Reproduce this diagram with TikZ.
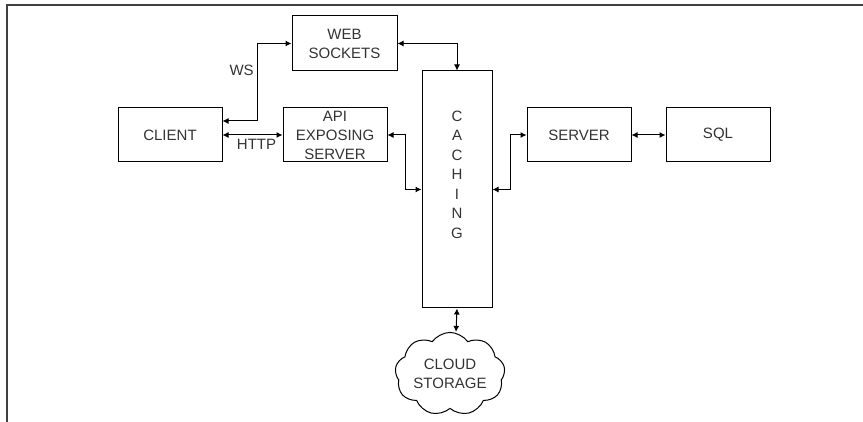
\documentclass[tikz,border=0pt]{standalone}
\usepackage{fontspec}
\setmainfont{Liberation Sans}
\usetikzlibrary{arrows.meta,positioning,shapes.symbols}

\begin{document}
\begin{tikzpicture}[x=1pt,y=-1pt] % coordinates in pixels of the screenshot
\tikzset{every node/.style={font=\fontsize{15}{19}\selectfont, text=black!80}}
\tikzset{block/.style={draw, line width=1pt, minimum width=104pt, minimum height=54pt, inner sep=0pt, align=center}}
\tikzset{conn/.style={line width=1pt, {Latex[length=6pt,width=6pt]}-{Latex[length=6pt,width=6pt]}}}
\useasboundingbox (0,0) rectangle (863,422);
% screenshot frame
\draw[line width=2pt, black!75] (7,422) -- (7,5) -- (863,5);
% boxes
\node[block] (client) at (170,135) {CLIENT};
\node[block, minimum width=105pt, minimum height=55pt] (websockets) at (344.5,43.5) {WEB\\SOCKETS};
\node[block] (api) at (335,135) {API\\EXPOSING\\SERVER};
\node[block, minimum width=70pt, minimum height=237pt] (caching) at (457,189.5) {};
\node[anchor=north, inner sep=0pt, align=center, font=\fontsize{15}{19.5}\selectfont, below=40pt of caching.north] (cachetext) {C\\A\\C\\H\\I\\N\\G};
\node[block] (server) at (579,135) {SERVER};
\node[block] (sql) at (718,135) {SQL};
\node[draw, line width=1pt, cloud, cloud puffs=9, cloud puff arc=110, aspect=1.5, minimum width=110pt, minimum height=78pt, inner sep=0pt, align=center] (cloud) at (450,374) {CLOUD\\STORAGE};
% connectors
\draw[conn] ([yshift=14pt]client.east) -- ++(35,0) |- node[pos=0.33, left] {WS} (websockets.west);
\draw[conn] (client.east) -- node[below, xshift=4pt] {HTTP} (api.west);
\draw[conn] (websockets.east) -| (caching.north);
\draw[conn] (api.east) -- ++(18,0) |- (caching.west);
\draw[conn] (caching.east) -- ++(18,0) |- (server.west);
\draw[conn] (server.east) -- (sql.west);
\draw[conn] (caching.south) -- ([xshift=6pt]cloud.north);
\end{tikzpicture}
\end{document}
